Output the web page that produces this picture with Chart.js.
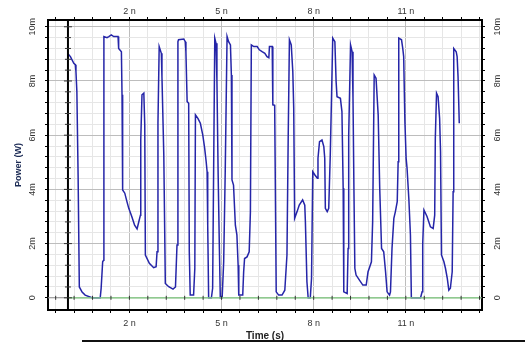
<!DOCTYPE html>
<html>
<head>
<meta charset="utf-8">
<script src="https://cdn.jsdelivr.net/npm/chart.js@4.4.1/dist/chart.umd.min.js"></script>
<style>
  body { margin: 0; background: #fff; }
  #wrap { position: relative; width: 525px; height: 343px; }
  #baseLine { position: absolute; left: 82px; top: 340px; width: 443px; height: 2px; background: #111; }
</style>
</head>
<body>
<div id="wrap">
  <canvas id="powerChart" width="525" height="343"></canvas>
  <div id="baseLine"></div>
</div>
<script>
// Time in ns, power in mW
const timeNs = [
  0, 0.08, 0.19, 0.24, 0.26, 0.29, 0.33, 0.37, 0.46, 0.56,
  0.78, 1.05, 1.08, 1.13, 1.16, 1.17, 1.27, 1.33, 1.41, 1.49,
  1.63, 1.65, 1.74, 1.76, 1.78, 1.85, 1.92, 1.98, 2.08, 2.17,
  2.25, 2.32, 2.36, 2.37, 2.41, 2.47, 2.50, 2.52, 2.65, 2.79,
  2.87, 2.90, 2.93, 2.97, 3.04, 3.06, 3.12, 3.17, 3.28, 3.42,
  3.50, 3.55, 3.58, 3.60, 3.77, 3.82, 3.84, 3.88, 3.93, 3.95,
  3.98, 4.09, 4.13, 4.15, 4.23, 4.31, 4.39, 4.45, 4.50, 4.53,
  4.55, 4.58, 4.67, 4.71, 4.75, 4.78, 4.82, 4.85, 4.89, 4.93,
  4.96, 5.02, 5.07, 5.12, 5.18, 5.23, 5.29, 5.32, 5.34, 5.39,
  5.45, 5.50, 5.54, 5.56, 5.69, 5.72, 5.75, 5.83, 5.90, 5.94,
  5.97, 6.05, 6.16, 6.23, 6.32, 6.41, 6.48, 6.54, 6.56, 6.65,
  6.67, 6.73, 6.78, 6.86, 6.97, 7.06, 7.13, 7.17, 7.21, 7.27,
  7.32, 7.35, 7.38, 7.46, 7.53, 7.64, 7.71, 7.73, 7.78, 7.82,
  7.89, 7.93, 7.97, 8.04, 8.12, 8.14, 8.19, 8.27, 8.33, 8.36,
  8.38, 8.44, 8.49, 8.54, 8.58, 8.62, 8.69, 8.73, 8.76, 8.87,
  8.92, 8.96, 8.98, 9.09, 9.12, 9.14, 9.20, 9.25, 9.28, 9.31,
  9.34, 9.38, 9.49, 9.60, 9.71, 9.77, 9.81, 9.88, 9.92, 9.97,
  10.03, 10.10, 10.15, 10.21, 10.28, 10.34, 10.39, 10.47, 10.50, 10.55,
  10.61, 10.66, 10.72, 10.75, 10.77, 10.86, 10.90, 10.93, 10.97, 11.01,
  11.04, 11.10, 11.15, 11.18, 11.48, 11.53, 11.55, 11.59, 11.69, 11.80,
  11.89, 11.94, 11.96, 12.00, 12.05, 12.10, 12.13, 12.16, 12.24, 12.29,
  12.35, 12.40, 12.45, 12.51, 12.54, 12.56, 12.64, 12.67, 12.70, 12.74
];
const powerMw = [
  9.0, 8.9, 8.65, 8.6, 8.35, 7.6, 4.53, 0.4, 0.21, 0.1,
  0, 0, 0.35, 1.33, 1.39, 9.64, 9.6, 9.64, 9.7, 9.64,
  9.64, 9.2, 9.08, 7.49, 3.98, 3.86, 3.55, 3.3, 2.99, 2.68,
  2.54, 2.87, 3.05, 5.82, 7.49, 7.55, 6.38, 1.58, 1.27, 1.11,
  1.15, 1.7, 6.44, 9.27, 9.02, 8.16, 5.27, 0.53, 0.41, 0.32,
  0.4, 1.95, 9.45, 9.52, 9.55, 9.45, 9.08, 7.24, 7.18, 1.7,
  0.1, 0.1, 1.09, 6.75, 6.62, 6.44, 6.0, 5.52, 5.02, 4.65,
  2.68, 0, 0, 0.35, 5.7, 9.58, 9.39, 7.98, 4.53, 1.82,
  0, 0, 1.33, 4.65, 9.64, 9.45, 9.33, 8.22, 4.35, 4.16,
  2.68, 2.32, 1.21, 0.1, 0.1, 0.96, 1.45, 1.51, 1.7, 3.18,
  9.33, 9.27, 9.27, 9.15, 9.08, 9.02, 8.9, 8.86, 9.27, 9.27,
  7.12, 7.1, 0.22, 0.1, 0.1, 0.28, 1.58, 5.89, 9.52, 9.33,
  8.35, 7.0, 2.93, 3.18, 3.42, 3.61, 3.42, 2.81, 0.59, 0,
  0, 0.72, 4.65, 4.53, 4.41, 5.15, 5.76, 5.82, 5.58, 5.15,
  3.3, 3.18, 3.3, 5.27, 7.36, 9.58, 9.45, 7.98, 7.42, 7.36,
  6.87, 4.04, 0.22, 0.16, 1.82, 6.0, 9.33, 9.08, 7.36, 4.04,
  1.09, 0.84, 0.65, 0.47, 0.47, 0.96, 1.09, 1.33, 2.81, 8.22,
  8.1, 6.75, 4.04, 1.82, 1.7, 0.96, 0.22, 0.1, 0.22, 1.82,
  2.93, 3.18, 3.55, 5.02, 9.58, 9.52, 9.2, 8.9, 6.5, 5.15,
  4.78, 3.61, 2.32, 0, 0, 0.22, 2.0, 3.24, 3.0, 2.62,
  2.56, 3.05, 5.89, 7.55, 7.42, 6.62, 5.39, 1.58, 1.33, 1.09,
  0.72, 0.28, 0.35, 0.96, 3.91, 9.2, 9.08, 8.9, 8.16, 6.44
];
// second (flat) trace
const zeroTimeNs = [0, 13.45];
const zeroPowerMw = [0, 0];

// axes
const xMajorValues = [2, 5, 8, 11];
const xTickLabels = ['2 n', '5 n', '8 n', '11 n'];
const yMajorValues = [0, 2, 4, 6, 8, 10];
const yTickLabels = ['0', '2m', '4m', '6m', '8m', '10m'];

const xTickVals = [];
for (let i = 0; i <= 23; i++) xTickVals.push(Math.round((-0.4 + 0.6 * i) * 100) / 100);
const yTickVals = [];
for (let i = 0; i <= 25; i++) yTickVals.push(Math.round(0.4 * i * 100) / 100);

function xLabel(v) {
    const i = xMajorValues.indexOf(Math.round(v * 100) / 100);
    return i >= 0 ? xTickLabels[i] : '';
}
function yLabel(v) {
    const i = yMajorValues.indexOf(Math.round(v * 100) / 100);
    return i >= 0 ? yTickLabels[i] : '';
}
function isXMajor(v) { return xMajorValues.includes(Math.round(v * 100) / 100); }
function isYMajor(v) { return yMajorValues.includes(Math.round(v * 100) / 100); }

const tickFont = { family: 'Liberation Sans, Arial, sans-serif', size: 9 };

function xAxis(position, fitHeight, onArea) {
    return {
        type: 'linear', position: position, min: -0.65, max: 13.48,
        afterBuildTicks: s => { s.ticks = xTickVals.map(v => ({ value: v })); },
        afterFit: s => { s.height = fitHeight; },
        ticks: { autoSkip: false, maxRotation: 0, padding: position === 'bottom' ? 5 : 0,
                 color: '#333', font: tickFont, callback: v => xLabel(v) },
        grid: {
            drawOnChartArea: onArea, tickLength: 3, tickColor: '#000',
            color: c => isXMajor(c.tick.value) ? '#bdbdbd' : '#e6e6e6'
        },
        border: { color: '#000', width: 2 }
    };
}
function yAxis(position, fitWidth, onArea) {
    return {
        type: 'linear', position: position, min: -0.45, max: 10.25,
        afterBuildTicks: s => { s.ticks = yTickVals.map(v => ({ value: v })); },
        afterFit: s => { s.width = fitWidth; },
        ticks: { autoSkip: false, minRotation: 90, maxRotation: 90, crossAlign: 'center',
                 padding: 4, color: '#333', font: tickFont, callback: v => yLabel(v) },
        grid: {
            drawOnChartArea: onArea, tickLength: 3, tickColor: '#000',
            color: c => isYMajor(c.tick.value) ? '#bdbdbd' : '#e6e6e6'
        },
        border: { color: '#000', width: 2 }
    };
}

const scales = {
    x: xAxis('bottom', 33, true),
    x2: xAxis('top', 20, false),
    y: yAxis('left', 48, true),
    y2: yAxis('right', 43, false)
};
scales.x.title = { display: true, text: 'Time (s)', color: '#222',
    font: { family: 'Liberation Sans, Arial, sans-serif', size: 10, weight: 'bold' }, padding: { top: 0, bottom: 1 } };
scales.y.title = { display: true, text: 'Power (W)', color: '#1c2b55',
    font: { family: 'Liberation Sans, Arial, sans-serif', size: 9, weight: 'bold' }, padding: { top: 13, bottom: 0 } };

// axes through the origin (x = 0 and y = 0) with small tick marks
const originAxes = {
    id: 'originAxes',
    beforeDatasetsDraw(chart) {
        const { ctx, chartArea, scales } = chart;
        const y0 = scales.y.getPixelForValue(0);
        ctx.save();
        ctx.strokeStyle = '#9a9a9a';
        ctx.lineWidth = 1;
        ctx.beginPath();
        ctx.moveTo(chartArea.left, y0);
        ctx.lineTo(chartArea.right, y0);
        ctx.stroke();
        ctx.restore();
    },
    afterDatasetsDraw(chart) {
        const { ctx, chartArea, scales } = chart;
        const x0 = scales.x.getPixelForValue(0);
        const y0 = scales.y.getPixelForValue(0);
        ctx.save();
        ctx.strokeStyle = '#000';
        ctx.lineWidth = 2;
        ctx.beginPath();
        ctx.moveTo(x0, chartArea.top);
        ctx.lineTo(x0, chartArea.bottom);
        ctx.stroke();
        ctx.lineWidth = 1;
        ctx.strokeStyle = '#333';
        ctx.beginPath();
        yTickVals.forEach(v => {
            const py = scales.y.getPixelForValue(v);
            const len = isYMajor(v) ? 4 : 3;
            ctx.moveTo(x0 - len, py);
            ctx.lineTo(x0 + len, py);
        });
        xTickVals.forEach(v => {
            const px = scales.x.getPixelForValue(v);
            ctx.moveTo(px, y0 - 2);
            ctx.lineTo(px, y0 + 2);
        });
        ctx.stroke();
        ctx.restore();
    }
};

new Chart(document.getElementById('powerChart').getContext('2d'), {
    type: 'line',
    data: {
        datasets: [{
            label: 'zero',
            data: zeroTimeNs.map((t, i) => ({ x: t, y: zeroPowerMw[i] })),
            borderColor: '#8ad68a',
            borderWidth: 1.2,
            pointRadius: 0,
            xAxisID: 'x', yAxisID: 'y'
        }, {
            label: 'Power',
            data: timeNs.map((t, i) => ({ x: t, y: powerMw[i] })),
            borderColor: '#2525a8',
            borderWidth: 1.5,
            pointRadius: 0,
            tension: 0,
            xAxisID: 'x', yAxisID: 'y'
        }]
    },
    options: {
        responsive: false,
        animation: false,
        layout: { padding: 0 },
        plugins: { legend: { display: false }, tooltip: { enabled: false } },
        scales: scales
    },
    plugins: [originAxes]
});
</script>
</body>
</html>
